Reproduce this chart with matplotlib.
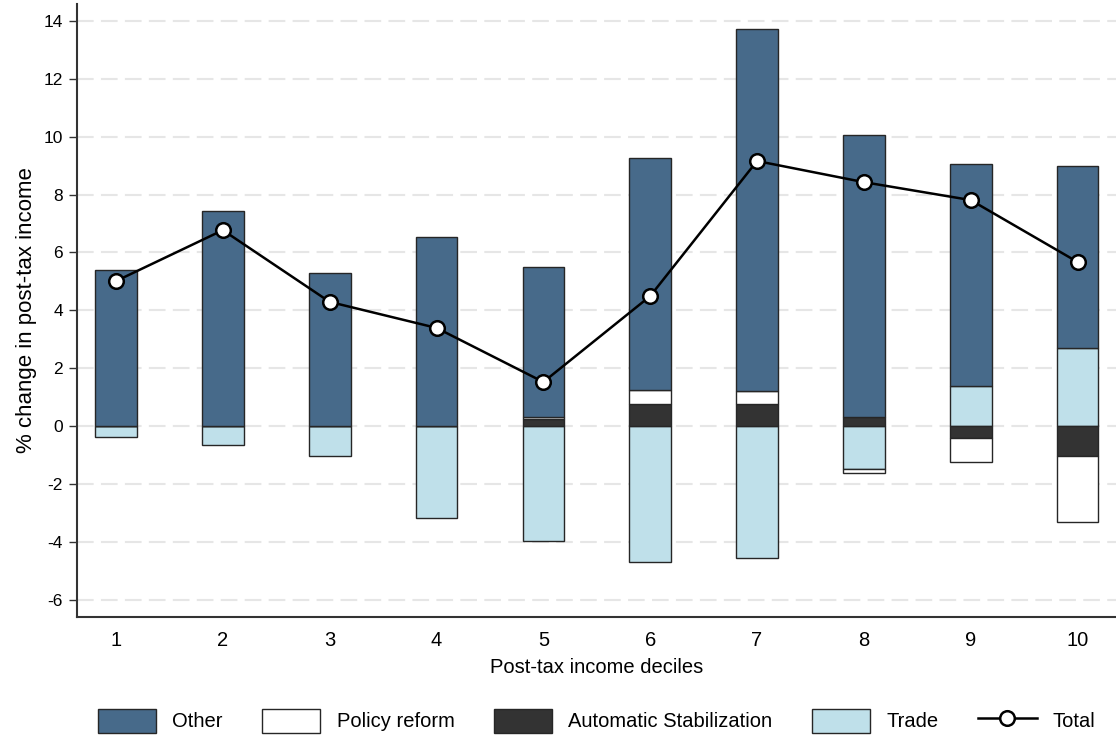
import matplotlib
matplotlib.use("Agg")
import matplotlib.pyplot as plt
from matplotlib.patches import Patch
from matplotlib.lines import Line2D
import numpy as np

plt.rcParams['font.family'] = ['Liberation Sans', 'DejaVu Sans']
plt.rcParams['axes.unicode_minus'] = False

deciles = [1, 2, 3, 4, 5, 6, 7, 8, 9, 10]
trade = [-0.37, -0.65, -1.03, -3.17, -3.96, -4.72, -4.56, -1.50, 1.39, 2.71]
automatic = [0.0, 0.0, 0.0, 0.0, 0.23, 0.76, 0.76, 0.32, -0.40, -1.04]
policy = [0.0, 0.0, 0.0, 0.0, 0.07, 0.48, 0.46, -0.12, -0.85, -2.28]
other = [5.40, 7.43, 5.29, 6.53, 5.18, 8.02, 12.50, 9.74, 7.67, 6.28]
total = [5.01, 6.77, 4.29, 3.39, 1.52, 4.49, 9.16, 8.43, 7.81, 5.67]

c_other = '#476a8a'
c_policy = '#ffffff'
c_auto = '#333333'
c_trade = '#bfe0ea'
edge = '#262626'

fig = plt.figure(figsize=(11.16, 7.37), dpi=100)
ax = fig.add_axes([0.069, 0.163, 0.931, 0.832])

x = np.array(deciles, dtype=float)
width = 0.39
pos_base = np.zeros(len(x))
neg_base = np.zeros(len(x))
series = [(trade, c_trade), (automatic, c_auto), (policy, c_policy), (other, c_other)]
for vals, col in series:
    v = np.array(vals, dtype=float)
    base = np.where(v >= 0, pos_base, neg_base)
    ax.bar(x, v, width=width, bottom=base, color=col, edgecolor=edge,
           linewidth=1.0, zorder=2)
    pos_base = pos_base + np.where(v > 0, v, 0)
    neg_base = neg_base + np.where(v < 0, v, 0)

ax.plot(x, total, color='black', linewidth=1.8, marker='o', markersize=10.5,
        markerfacecolor='white', markeredgecolor='black', markeredgewidth=1.8,
        zorder=4)

ax.set_xlim(0.635, 10.36)
ax.set_ylim(-6.6, 14.6)
ax.set_yticks(np.arange(-6, 15, 2))
ax.set_xticks(deciles)
ax.set_xticklabels([str(d) for d in deciles])

ax.yaxis.grid(True, color='#e6e6e6', linewidth=1.5, linestyle=(0, (8, 3.5)), zorder=0)
ax.set_axisbelow(True)

for s in ['top', 'right']:
    ax.spines[s].set_visible(False)
for s in ['left', 'bottom']:
    ax.spines[s].set_color('#333333')
    ax.spines[s].set_linewidth(1.5)

ax.tick_params(axis='y', length=6, width=1.0, color='#333333', labelsize=12.5, pad=4)
ax.tick_params(axis='x', length=0, labelsize=14.5, pad=10)

ax.set_xlabel('Post-tax income deciles', fontsize=14.5, labelpad=6)
ax.set_ylabel('% change in post-tax income', fontsize=16, labelpad=5)

handles = [
    Patch(facecolor=c_other, edgecolor=edge, linewidth=1.0, label='Other'),
    Patch(facecolor=c_policy, edgecolor=edge, linewidth=1.0, label='Policy reform'),
    Patch(facecolor=c_auto, edgecolor=edge, linewidth=1.0, label='Automatic Stabilization'),
    Patch(facecolor=c_trade, edgecolor=edge, linewidth=1.0, label='Trade'),
    Line2D([], [], color='black', linewidth=1.8, marker='o', markersize=10.5,
           markerfacecolor='white', markeredgecolor='black', markeredgewidth=1.8,
           label='Total'),
]
fig.legend(handles=handles, loc='center', bbox_to_anchor=(0.5345, 0.022), ncol=5,
           frameon=False, fontsize=14.5, handlelength=2.9, handleheight=1.5,
           handletextpad=0.8, columnspacing=1.96)

fig.savefig('out.png', dpi=100)
